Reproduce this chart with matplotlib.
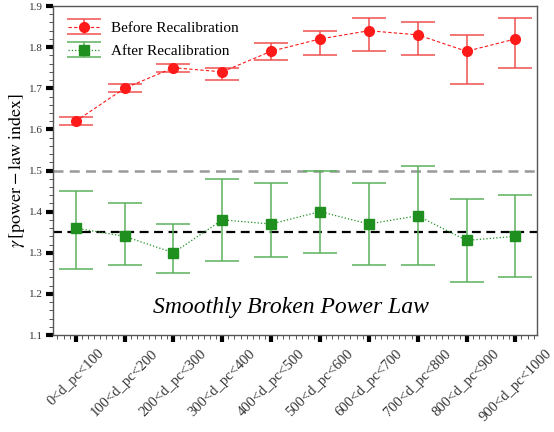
import matplotlib
matplotlib.use("Agg")
import matplotlib.pyplot as plt
from matplotlib.ticker import MultipleLocator
import numpy as np

plt.rcParams['font.family'] = ['Liberation Serif', 'DejaVu Serif']
plt.rcParams['mathtext.fontset'] = 'stix'

bins = ['0<d_pc<100', '100<d_pc<200', '200<d_pc<300', '300<d_pc<400',
        '400<d_pc<500', '500<d_pc<600', '600<d_pc<700', '700<d_pc<800',
        '800<d_pc<900', '900<d_pc<1000']

before = [1.62, 1.70, 1.75, 1.74, 1.79, 1.82, 1.84, 1.83, 1.79, 1.82]
before_lo = [1.61, 1.69, 1.74, 1.72, 1.77, 1.78, 1.79, 1.78, 1.71, 1.75]
before_hi = [1.63, 1.71, 1.76, 1.75, 1.81, 1.84, 1.87, 1.86, 1.83, 1.87]

after = [1.36, 1.34, 1.30, 1.38, 1.37, 1.40, 1.37, 1.39, 1.33, 1.34]
after_lo = [1.26, 1.27, 1.25, 1.28, 1.29, 1.30, 1.27, 1.27, 1.23, 1.24]
after_hi = [1.45, 1.42, 1.37, 1.48, 1.47, 1.50, 1.47, 1.51, 1.43, 1.44]

ref_levels = [1.5, 1.35]

x = np.arange(len(bins))
b = np.array(before)
a = np.array(after)
b_err = [b - np.array(before_lo), np.array(before_hi) - b]
a_err = [a - np.array(after_lo), np.array(after_hi) - a]

fig = plt.figure(figsize=(5.54, 4.32), dpi=100)
ax = fig.add_axes([0.0957, 0.2245, 0.8736, 0.7615])

ax.axhline(ref_levels[0], color='#999999', ls=(0, (4, 2.5)), lw=1.8, zorder=1)
ax.axhline(ref_levels[1], color='black', ls=(0, (4, 2.5)), lw=1.6, zorder=1)

ax.errorbar(x, b, yerr=b_err, fmt='o', ls=(0, (3, 2)), color='#ff1a1a', ms=7,
            lw=0.8, elinewidth=1.1, ecolor='#f05050', capsize=12, capthick=1.1,
            label='Before Recalibration', zorder=3)
ax.errorbar(x, a, yerr=a_err, fmt='s', ls=':', color='#1f8f1f', ms=6.5,
            lw=0.9, elinewidth=1.1, ecolor='#5cb05c', capsize=12, capthick=1.1,
            label='After Recalibration', zorder=3)

ax.text(4.41, 1.166, 'Smoothly Broken Power Law', fontsize=17, style='italic',
        ha='center', va='center')

ax.set_xlim(-0.465, 9.443)
ax.set_ylim(1.1, 1.9)
ax.set_xticks(x)
ax.set_xticklabels(bins, rotation=45, ha='center', fontsize=10.5, color='#333333')
ax.xaxis.set_minor_locator(MultipleLocator(0.125))
ax.yaxis.set_major_locator(MultipleLocator(0.1))
ax.yaxis.set_minor_locator(MultipleLocator(0.02))
ax.tick_params(axis='both', which='major', direction='out', length=5, width=3,
               color='black')
ax.tick_params(axis='y', which='major', labelsize=8, labelcolor='#333333',
               pad=2.5)
ax.tick_params(axis='both', which='minor', direction='out', length=3, width=0.7,
               color='#555555')
for s in ax.spines.values():
    s.set_color('#555555')
    s.set_linewidth(1.0)

ax.set_ylabel(r'$\gamma\,[\mathrm{power} - \mathrm{law\ index}]$', fontsize=13,
              labelpad=1)

leg = ax.legend(loc='upper left', frameon=False, fontsize=11, handlelength=2.0,
                borderaxespad=0.6, labelspacing=0.6)

fig.savefig('out.png', dpi=100)
